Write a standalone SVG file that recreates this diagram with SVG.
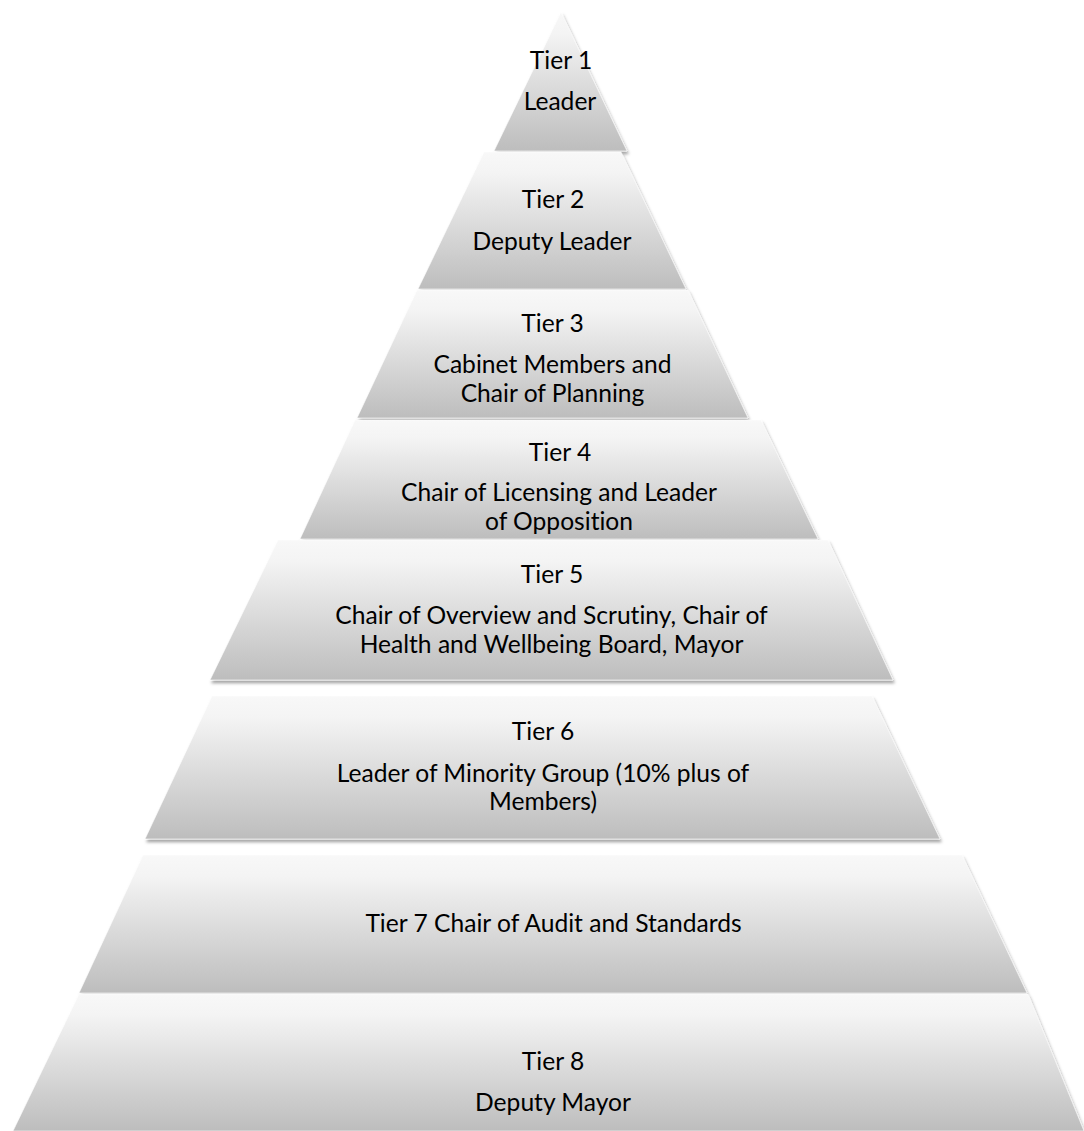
<svg xmlns="http://www.w3.org/2000/svg" width="1084" height="1131" viewBox="0 0 1084 1131">
  <defs>
    <linearGradient id="tierFill" x1="0" y1="0" x2="0" y2="1">
      <stop offset="0" stop-color="#f8f8f8"/>
      <stop offset="0.15" stop-color="#f4f4f4"/>
      <stop offset="1" stop-color="#bdbdbd"/>
    </linearGradient>
    <filter id="shadow" x="-5%" y="-5%" width="110%" height="115%">
      <feDropShadow dx="1.5" dy="3" stdDeviation="1.8" flood-color="#000" flood-opacity="0.35"/>
    </filter>
  </defs>
  <style>
    .tier { fill: url(#tierFill); stroke: #ffffff; stroke-opacity: 0.6; stroke-width: 1; filter: url(#shadow); }
    .lbl { font-family: Lato, "Open Sans", "Liberation Sans", sans-serif; font-size: 24.6px; fill: #000; text-anchor: middle; font-variant-ligatures: none; font-feature-settings: "liga" 0; }
  </style>
  <rect width="1084" height="1131" fill="#ffffff"/>
  <g id="tier1">
    <polygon class="tier" points="561,12 627,151 494,151"/>
    <text class="lbl" x="561" y="69">Tier 1</text>
    <text class="lbl" x="560" y="110">Leader</text>
  </g>
  <g id="tier2">
    <polygon class="tier" points="484,152 621,152 686,289 418,289"/>
    <text class="lbl" x="553" y="208">Tier 2</text>
    <text class="lbl" x="552" y="250">Deputy Leader</text>
  </g>
  <g id="tier3">
    <polygon class="tier" points="417,290 688,290 748,418 357,418"/>
    <text class="lbl" x="552.5" y="332">Tier 3</text>
    <text class="lbl" x="552.5" y="373">Cabinet Members and</text>
    <text class="lbl" x="552.5" y="402">Chair of Planning</text>
  </g>
  <g id="tier4">
    <polygon class="tier" points="355,420 761,420 818,539 300,539"/>
    <text class="lbl" x="560" y="461">Tier 4</text>
    <text class="lbl" x="559" y="501">Chair of Licensing and Leader</text>
    <text class="lbl" x="559" y="530">of Opposition</text>
  </g>
  <g id="tier5">
    <polygon class="tier" points="278,540 828,540 893,680 210,680"/>
    <text class="lbl" x="552" y="583">Tier 5</text>
    <text class="lbl" x="551.5" y="624">Chair of Overview and Scrutiny, Chair of</text>
    <text class="lbl" x="551.5" y="653">Health and Wellbeing Board, Mayor</text>
  </g>
  <g id="tier6">
    <polygon class="tier" points="212,696 872,696 940,839 145,839"/>
    <text class="lbl" x="543" y="740">Tier 6</text>
    <text class="lbl" x="543" y="782">Leader of Minority Group (10% plus of</text>
    <text class="lbl" x="543" y="810">Members)</text>
  </g>
  <g id="tier7">
    <polygon class="tier" points="143,855 962,855 1027,993 79,993"/>
    <text class="lbl" x="553.5" y="932">Tier 7 Chair of Audit and Standards</text>
  </g>
  <g id="tier8">
    <polygon class="tier" points="79,994 1028,994 1084,1131 13,1131"/>
    <text class="lbl" x="553" y="1070">Tier 8</text>
    <text class="lbl" x="553" y="1111">Deputy Mayor</text>
  </g>
  <g id="connectors"/>
</svg>
